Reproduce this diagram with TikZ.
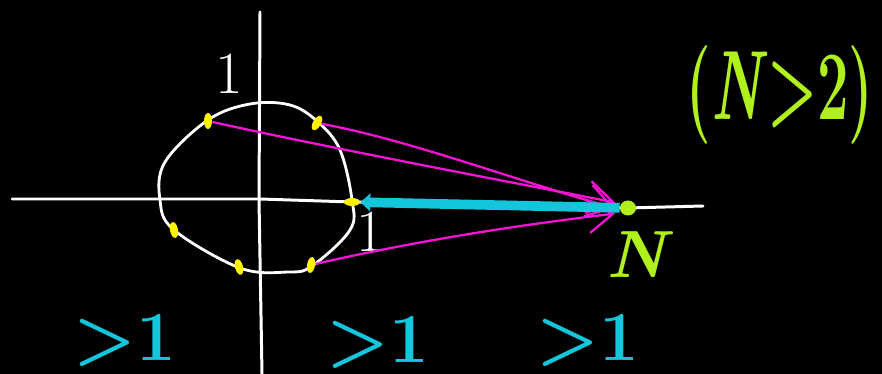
\documentclass[tikz,border=0pt]{standalone}
\usepackage{fontspec}
\usepackage{xcolor}
\usepackage{tikz}
\usetikzlibrary{arrows.meta,shapes.geometric}
\definecolor{inkYellow}{HTML}{FFF200}
\definecolor{inkPink}{HTML}{F712D6}
\definecolor{inkCyan}{HTML}{14C6DC}
\definecolor{inkLime}{HTML}{B0F01C}

\begin{document}
\begin{tikzpicture}[
  x=0.02cm, y=-0.02cm,
  axis/.style={draw=white, line width=1.7pt, line cap=round},
  root/.style={ellipse, fill=inkYellow, inner sep=0pt, minimum width=0.16cm, minimum height=0.32cm},
  far/.style={ellipse, fill=inkLime, inner sep=0pt, minimum width=0.32cm, minimum height=0.3cm},
  reach/.style={-{Straight Barb[length=5mm,width=6.5mm,line width=1.3pt]}, line width=1.3pt, draw=inkPink},
  ray/.style={-{Triangle[length=2mm,width=3.5mm]}, line width=5.5pt, draw=inkCyan},
  tick/.style={text=white, font=\fontsize{34}{40}\selectfont, inner sep=0pt},
  gap/.style={text=inkCyan, font=\fontsize{40}{46}\selectfont\bfseries, inner sep=0pt}
]
  \fill[black] (0,0) rectangle (882,374);
  \useasboundingbox (0,0) rectangle (882,374);
  % axes
  \draw[axis] (12,199) -- (260,199) -- (352,202) -- (628,208) -- (703,206);
  \draw[axis] (260,12) -- (259,200) -- (262,374);
  % unit circle
  \draw[axis, line width=1.6pt] plot[smooth cycle, tension=0.6] coordinates {(250,104) (290,105) (318,122) (340,150) (352,200) (350,230) (312,266) (288,272) (240,268) (174,230) (160,200) (165,162) (208,120)};
  % roots
  \node[root, rotate=90] (p0) at (352,202) {};
  \node[root, rotate=-30] (p1) at (317,123) {};
  \node[root] (p2) at (208,121) {};
  \node[root, rotate=10] (p3) at (174,230) {};
  \node[root, rotate=15] (p4) at (239,267) {};
  \node[root, rotate=-10] (p5) at (311,265) {};
  \node[far] (N) at (628,208) {};
  % labels
  \node[tick] (oneY) at (229,74) {1};
  \node[tick] (oneX) at (370,232) {1};
  \node[text=inkLime, font=\fontsize{38}{44}\selectfont\bfseries\itshape, inner sep=0pt] (Nlab) at (636,255) {N};
  \node[text=inkLime, font=\fontsize{56}{64}\selectfont\bfseries, xscale=0.57, inner sep=0pt] (cond) at (780,95) {(\textit{N}>2)};
  \node[gap] (g1) at (125,340) {>1};
  \node[gap] (g2) at (378,342) {>1};
  \node[gap] (g3) at (588,340) {>1};
  % distances
  \draw[reach] (p2) .. controls (330,148) and (510,182) .. ([xshift=-4pt]N.north west);
  \draw[reach] (p1) .. controls (410,140) and (520,182) .. ([xshift=-3pt]N.west);
  \draw[reach] (p5) .. controls (420,240) and (520,225) .. ([xshift=-4pt]N.south west);
  \draw[ray] (N) -- (p0);
\end{tikzpicture}
\end{document}
